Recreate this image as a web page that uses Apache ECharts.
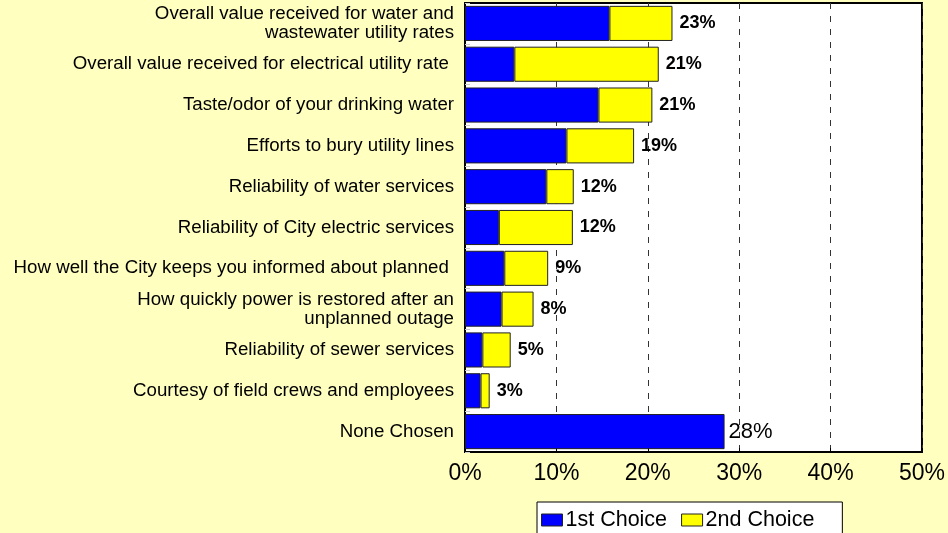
<!DOCTYPE html>
<html><head><meta charset="utf-8">
<script src="https://cdn.jsdelivr.net/npm/echarts@6/dist/echarts.min.js"></script>
<style>html,body{margin:0;padding:0;background:#FFFFC0;}#c{width:948px;height:533px;}</style>
</head><body><div id="c"></div>
<script>
var categories = [
  "Overall value received for water and\nwastewater utility rates",
  "Overall value received for electrical utility rate ",
  "Taste/odor of your drinking water",
  "Efforts to bury utility lines",
  "Reliability of water services",
  "Reliability of City electric services",
  "How well the City keeps you informed about planned ",
  "How quickly power is restored after an\nunplanned outage",
  "Reliability of sewer services",
  "Courtesy of field crews and employees",
  "None Chosen"
];
var firstChoice = [15.8, 5.4, 14.6, 11.1, 8.9, 3.7, 4.3, 4.0, 1.9, 1.7, 28.4];
var secondChoice = [6.9, 15.8, 5.9, 7.4, 3.0, 8.1, 4.8, 3.5, 3.1, 1.0, null];
var totalLabels = [23, 21, 21, 19, 12, 12, 9, 8, 5, 3, 28];
var xTicks = [0, 10, 20, 30, 40, 50];

var font = "Liberation Sans, Arial, sans-serif";
var blueData = firstChoice.map(function (v, i) {
  var item = { value: v };
  if (secondChoice[i] == null) {
    item.label = { show: true, position: 'right', distance: 4, formatter: totalLabels[i] + '%',
      fontSize: 22, fontWeight: 'normal', color: '#000', fontFamily: font };
  }
  return item;
});
var yellowData = secondChoice.map(function (v, i) {
  return v == null ? '-' : { value: v };
});

var chart = echarts.init(document.getElementById('c'));
chart.setOption({
  backgroundColor: '#FFFFC0',
  animation: false,
  textStyle: { fontFamily: font },
  grid: { left: 465, right: 26, top: 3, bottom: 81, show: true, backgroundColor: '#fff',
    borderColor: '#000', borderWidth: 2, containLabel: false },
  legend: {
    left: 537, top: 502, itemWidth: 21, itemHeight: 12, itemGap: 14, icon: 'rect',
    backgroundColor: '#fff', borderColor: '#000', borderWidth: 1,
    padding: [7, 28, 12, 4],
    textStyle: { fontSize: 21.5, color: '#000', fontFamily: font, padding: [0, 0, 0, -2] },
    itemStyle: { borderColor: '#222', borderWidth: 1 },
    data: ['1st Choice', '2nd Choice']
  },
  xAxis: {
    type: 'value', min: 0, max: 50, interval: 10,
    axisLine: { show: false },
    axisTick: { show: true, inside: true, length: 4, lineStyle: { color: '#000' } },
    axisLabel: { fontSize: 23, color: '#000', margin: 10, fontFamily: font,
      formatter: function (v) { return xTicks.indexOf(v) >= 0 ? v + '%' : ''; } },
    splitLine: { show: true, lineStyle: { type: [6, 7], color: '#333', width: 1 } }
  },
  yAxis: {
    type: 'category', inverse: true, data: categories,
    axisLine: { show: true, lineStyle: { color: '#000', width: 2 } },
    axisTick: { show: true, inside: true, length: 5, lineStyle: { color: '#ccc' } },
    axisLabel: { fontSize: 18.7, color: '#000', margin: 11, lineHeight: 19, fontFamily: font, align: 'right' }
  },
  series: [
    { name: '1st Choice', type: 'bar', stack: 'a', data: blueData, barWidth: '86%',
      itemStyle: { color: '#0000FF', borderColor: '#222', borderWidth: 1 } },
    { name: '2nd Choice', type: 'bar', stack: 'a', data: yellowData, barWidth: '86%',
      itemStyle: { color: '#FFFF00', borderColor: '#222', borderWidth: 1 },
      label: { show: true, position: 'right', distance: 7, fontSize: 18, fontWeight: 'bold', color: '#000',
        fontFamily: font, formatter: function (p) { return totalLabels[p.dataIndex] + '%'; } } }
  ]
});
</script></body></html>
